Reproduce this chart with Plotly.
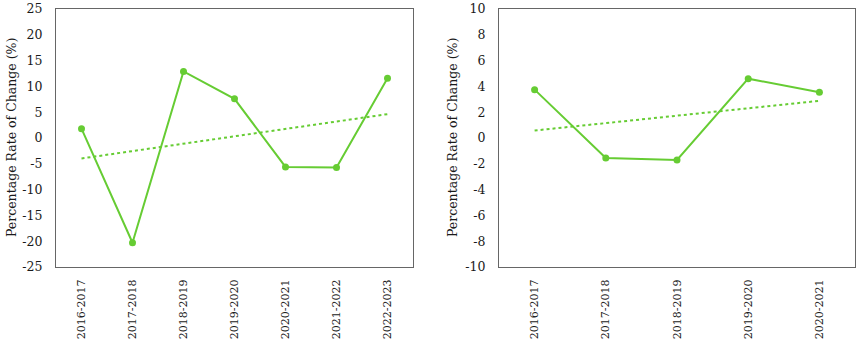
import numpy as np
import plotly.graph_objects as go

# Data
periods_a = ["2016-2017", "2017-2018", "2018-2019", "2019-2020", "2020-2021", "2021-2022", "2022-2023"]
values_a = [1.8, -20.3, 12.9, 7.6, -5.6, -5.7, 11.6]

periods_b = ["2016-2017", "2017-2018", "2018-2019", "2019-2020", "2020-2021"]
values_b = [3.75, -1.55, -1.7, 4.6, 3.55]

ytick_a = [25, 20, 15, 10, 5, 0, -5, -10, -15, -20, -25]
ytick_b = [10, 8, 6, 4, 2, 0, -2, -4, -6, -8, -10]

y_title = "Percentage Rate of Change (%)"

GREEN = "#66CC33"
FRAME = "#666666"
FONT = "DejaVu Serif, serif"
TXT = "#1a1a1a"


def trend(vals):
    x = np.arange(1, len(vals) + 1)
    m, b = np.polyfit(x, vals, 1)
    return list(m * x + b)


fig = go.Figure()

fig.add_trace(go.Scatter(x=periods_a, y=values_a, mode="lines+markers",
                         line=dict(color=GREEN, width=2), marker=dict(color=GREEN, size=7),
                         xaxis="x", yaxis="y", showlegend=False))
fig.add_trace(go.Scatter(x=periods_a, y=trend(values_a), mode="lines",
                         line=dict(color=GREEN, width=2, dash="dot"),
                         xaxis="x", yaxis="y", showlegend=False))

fig.add_trace(go.Scatter(x=periods_b, y=values_b, mode="lines+markers",
                         line=dict(color=GREEN, width=2), marker=dict(color=GREEN, size=7),
                         xaxis="x2", yaxis="y2", showlegend=False))
fig.add_trace(go.Scatter(x=periods_b, y=trend(values_b), mode="lines",
                         line=dict(color=GREEN, width=2, dash="dot"),
                         xaxis="x2", yaxis="y2", showlegend=False))

W, H = 858, 339
ydom = [(339 - 267) / H, (339 - 9) / H]

axis_common = dict(showline=True, linecolor=FRAME, linewidth=1.3, mirror=True,
                   showgrid=False, zeroline=False, ticks="", automargin=False)
xtickfont = dict(family=FONT, size=11, color=TXT)
ytickfont = dict(family=FONT, size=12.5, color=TXT)

fig.update_layout(
    width=W, height=H,
    margin=dict(l=0, r=0, t=0, b=0),
    paper_bgcolor="white", plot_bgcolor="white",
    font=dict(family=FONT, size=12.5, color=TXT),
    xaxis=dict(domain=[56 / W, 413 / W], anchor="y", type="category",
               range=[-0.5, len(periods_a) - 0.5], tickangle=-90,
               ticklabelstandoff=7, tickfont=xtickfont, **axis_common),
    yaxis=dict(domain=ydom, anchor="x", range=[-25, 25], tickvals=ytick_a,
               ticktext=[str(v) for v in ytick_a],
               ticklabelstandoff=10, tickfont=ytickfont, **axis_common),
    xaxis2=dict(domain=[499 / W, 855 / W], anchor="y2", type="category",
                range=[-0.5, len(periods_b) - 0.5], tickangle=-90,
                ticklabelstandoff=7, tickfont=xtickfont, **axis_common),
    yaxis2=dict(domain=ydom, anchor="x2", range=[-10, 10], tickvals=ytick_b,
                ticktext=[str(v) for v in ytick_b],
                ticklabelstandoff=10, tickfont=ytickfont, **axis_common),
    annotations=[
        dict(text=y_title, textangle=-90, x=11 / W, y=1 - 138 / H, xref="paper", yref="paper",
             showarrow=False, xanchor="center", yanchor="middle",
             font=dict(family=FONT, size=12.5, color=TXT)),
        dict(text=y_title, textangle=-90, x=452 / W, y=1 - 138 / H, xref="paper", yref="paper",
             showarrow=False, xanchor="center", yanchor="middle",
             font=dict(family=FONT, size=12.5, color=TXT)),
    ],
)

fig.write_html("out.html", config={"displayModeBar": False},
               post_script="document.body.style.margin='0';")
